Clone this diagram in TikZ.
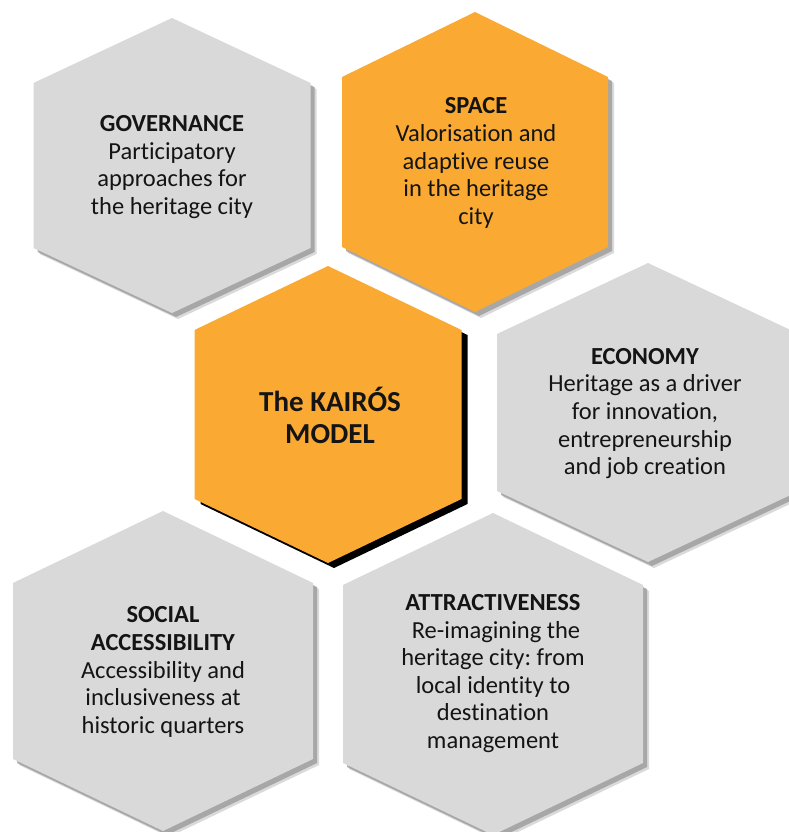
\documentclass[tikz,border=0pt]{standalone}
\usepackage{fontspec}
\setmainfont{Carlito}[Ligatures=NoCommon]
\frenchspacing
\definecolor{hexorange}{RGB}{250,170,51}
\definecolor{hexgray}{RGB}{217,217,217}
\definecolor{shadowgray}{RGB}{150,150,150}
\definecolor{txt}{RGB}{20,20,20}
% #1 cx, #2 top, #3 half width, #4 slant drop, #5 height, #6 fill, #7 shadow colour
\newcommand\hexcell[7]{%
  \fill[#7, opacity=0.35, shift={(6,6)}] (#1,#2) -- ({#1+#3},{#2+#4}) -- ({#1+#3},{#2+#5-#4}) -- (#1,{#2+#5}) -- ({#1-#3},{#2+#5-#4}) -- ({#1-#3},{#2+#4}) -- cycle;
  \fill[#7, opacity=0.75, shift={(4,4)}] (#1,#2) -- ({#1+#3},{#2+#4}) -- ({#1+#3},{#2+#5-#4}) -- (#1,{#2+#5}) -- ({#1-#3},{#2+#5-#4}) -- ({#1-#3},{#2+#4}) -- cycle;
  \fill[#6] (#1,#2) -- ({#1+#3},{#2+#4}) -- ({#1+#3},{#2+#5-#4}) -- (#1,{#2+#5}) -- ({#1-#3},{#2+#5-#4}) -- ({#1-#3},{#2+#4}) -- cycle;
}
\begin{document}
\begin{tikzpicture}[x=1pt,y=-1pt,
  celltext/.style={align=center, text=txt, inner sep=0pt, font=\fontsize{24.5}{27.6}\selectfont},
  coretext/.style={align=center, text=txt, inner sep=0pt, font=\fontsize{29}{32}\selectfont\bfseries}]
\useasboundingbox[fill=white] (0,0) rectangle (789,832);
\begin{scope}
\clip (0,0) rectangle (789,832);
\hexcell{172}{18}{138.5}{65}{295}{hexgray}{shadowgray}
\hexcell{475}{12}{133}{65}{300}{hexorange}{shadowgray}
\hexcell{648}{263}{151}{71}{299}{hexgray}{shadowgray}
\hexcell{163}{511}{150}{72}{320}{hexgray}{shadowgray}
\hexcell{493}{513}{150}{72}{322}{hexgray}{shadowgray}
\fill[black, shift={(6,5)}] (328,266) -- (461.5,330) -- (461.5,499) -- (328,563) -- (194.5,499) -- (194.5,330) -- cycle;
\fill[hexorange] (328,266) -- (461.5,330) -- (461.5,499) -- (328,563) -- (194.5,499) -- (194.5,330) -- cycle;
\end{scope}
\node[celltext] (gov) at (172,167) {\textbf{GOVERNANCE}\\Participatory\\approaches for\\the heritage city};
\node[celltext] (space) at (476,163) {\textbf{SPACE}\\Valorisation and\\adaptive reuse\\in the heritage\\city};
\node[coretext] (core) at (330,415) {The KAIRÓS\\MODEL};
\node[celltext] (eco) at (645,413.5) {\textbf{ECONOMY}\\Heritage as a driver\\for innovation,\\entrepreneurship\\and job creation};
\node[celltext] (soc) at (163,672) {\textbf{SOCIAL}\\\textbf{ACCESSIBILITY}\\Accessibility and\\inclusiveness at\\historic quarters};
\node[celltext] (attr) at (493,673.5) {\textbf{ATTRACTIVENESS}\\\hspace*{6pt}Re-imagining the\\heritage city: from\\local identity to\\destination\\management};
\end{tikzpicture}
\end{document}
